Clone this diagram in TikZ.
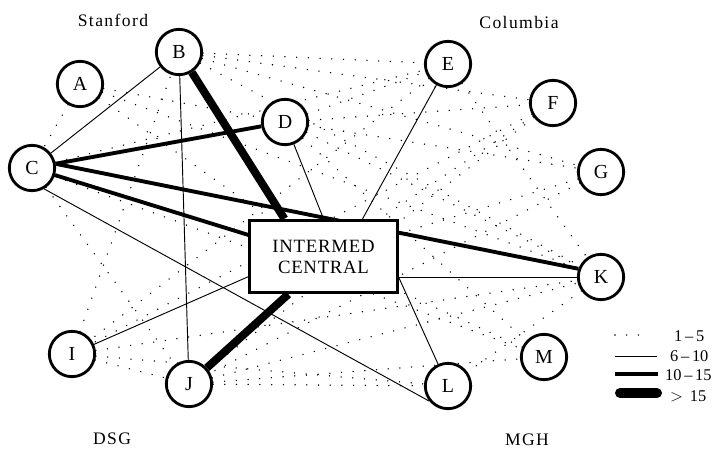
\documentclass[tikz,border=0pt]{standalone}
\usepackage{fontspec}
\setmainfont{Liberation Serif}
\usepackage{tikz}
\usetikzlibrary{positioning}
\usetikzlibrary{backgrounds}
\tikzstyle{site} = [circle, draw, line width=2.4pt, fill=white,
    minimum size=1.36cm, inner sep=0pt, font=\fontsize{17}{19}\selectfont]
\tikzstyle{hub} = [rectangle, draw, line width=2.4pt, fill=white, align=center,
    minimum width=4.42cm, minimum height=2.18cm,
    font=\fontsize{16}{18}\selectfont\addfontfeature{LetterSpace=4}]
\tikzstyle{group} = [font=\fontsize{15}{17}\selectfont\addfontfeature{LetterSpace=8}]
\tikzstyle{keytext} = [anchor=west, font=\fontsize{14}{16}\selectfont]
\tikzstyle{few} = [draw, line width=1.3pt, line cap=round, dash pattern=on 0pt off 10pt]
\tikzstyle{some} = [draw, line width=0.8pt]
\tikzstyle{many} = [draw, line width=3.3pt]
\tikzstyle{most} = [draw, line width=6.8pt]

\begin{document}
\begin{tikzpicture}[x=0.03cm, y=-0.03cm]
        \useasboundingbox (0,0) rectangle (714,449);
        % sites
        \node [site] (A) at (80,84) {A};
        \node [site] (B) at (179,52) {B};
        \node [site] (C) at (32,168) {C};
        \node [site] (D) at (285,122) {D};
        \node [site] (E) at (448,64) {E};
        \node [site] (F) at (553,103) {F};
        \node [site] (G) at (601,172) {G};
        \node [site] (I) at (72,354) {I};
        \node [site] (J) at (189,384) {J};
        \node [site] (K) at (601,277) {K};
        \node [site] (L) at (448,386) {L};
        \node [site] (M) at (544,357) {M};
        \node [hub] (central) at (323.5,256.5) {INTERMED\\CENTRAL};
        % groups
        \node [group] (stanford) at (113,20) {Stanford};
        \node [group] (columbia) at (519,22) {Columbia};
        \node [group] (dsg) at (112,439) {DSG};
        \node [group] (mgh) at (527,440) {MGH};
        % edges
        \begin{pgfonlayer}{background}
        \foreach \a/\b in {A/C, A/D, A/K, A/central, B/E, B/G, B/K, B/F,
                C/E, C/J, C/M, D/E, D/F, D/G, D/K, D/M, E/K, E/I,
                F/central, F/J, F/I, G/central, G/J, I/J, I/B, I/K, I/L,
                J/K, J/M, J/L, K/L, M/central}
            \path [few] (\a) -- (\b);
        \path [some] (B) -- (C);
        \path [some] (B) -- (J);
        \path [some] (D) -- (central.north);
        \path [some] (E) -- (central.44);
        \path [some] (I) -- (central.195);
        \path [some] (C.-60) -- (L.219);
        \path [some] (K.west) -- (K.west -| central.east);
        \path [some] (L) -- (K.west -| central.east);
        \path [many] (C) -- (D);
        \path [many] (C) -- (central.164);
        \path [many] (C.10) -- (K.160);
        \path [most] (B) -- (central.136);
        \path [most] (J) -- (central.227);
        \end{pgfonlayer}
        % key
        \coordinate (k1a) at (615,335); \coordinate (k1b) at (647,335);
        \coordinate (k2a) at (615,356); \coordinate (k2b) at (657,356);
        \coordinate (k3a) at (615,374); \coordinate (k3b) at (658,374);
        \coordinate (k4a) at (620,393); \coordinate (k4b) at (657,393);
        \path [few] (k1a) -- (k1b);
        \path [some] (k2a) -- (k2b);
        \path [many] (k3a) -- (k3b);
        \path [most, line width=8.5pt, line cap=round] (k4a) -- (k4b);
        \node [keytext] (t1) at (670,336) {1\,--\,5};
        \node [keytext] (t2) at (666,356) {6\,--\,10};
        \node [keytext] (t3) at (661,375) {10\,--\,15};
        \node [keytext] (t4) at (666,396) {$>$\, 15};
    \end{tikzpicture}
\end{document}
